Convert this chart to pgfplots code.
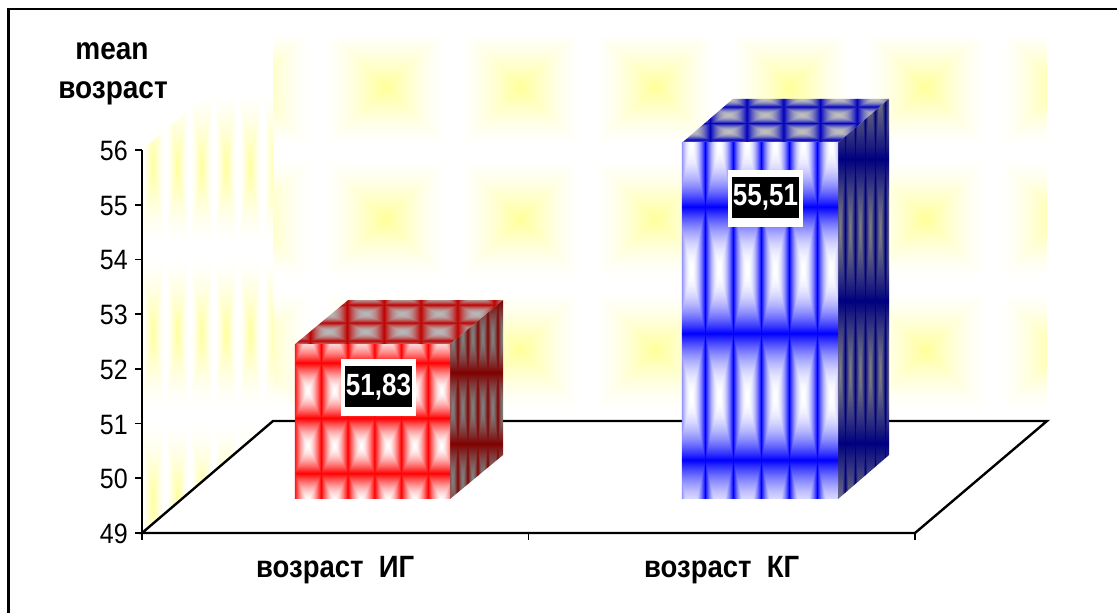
\documentclass[border=0pt]{standalone}
\usepackage{fontspec}
\setmainfont{Liberation Sans}
\usepackage{graphicx}
\usepackage{pgfplots}
\pgfplotsset{compat=1.18}

% Tiled "rectangular gradient" fill: every tile runs from the centre colour to the
% edge colour. Arguments: name; bbox left, right, top, bottom; tile width, x of a tile
% edge; tile height, y of a tile edge; centre rgb; edge-minus-centre rgb; shaping ops.
\newcommand\tiledshading[9]{%
  \tiledshadingii{#1}{#2}{#3}{#4}{#5}{#6}{#7}{#8}{#9}}
\newcommand\tiledshadingii[9]{%
  \pgfmathsetmacro\tileA{(#3-#2)/(50*#6)}%
  \pgfmathsetmacro\tileB{(#2-0.5*(#3-#2)-#7)/#6}%
  \pgfmathsetmacro\tileC{(#5-#4)/(50*#8)}%
  \pgfmathsetmacro\tileD{(#9-#5-0.5*(#5-#4))/#8}%
  \tiledshadingiii{#1}}
\newcommand\tiledshadingiii[8]{%
  \edef\tiledecl{\noexpand\pgfdeclarefunctionalshading{#1}{\noexpand\pgfpointorigin}%
    {\noexpand\pgfpoint{100bp}{100bp}}{}{%
      \tileC\space mul \tileD\space add dup floor sub 2 mul 1 sub abs
      exch
      \tileA\space mul \tileB\space add dup floor sub 2 mul 1 sub abs
      2 copy lt {exch} if pop
      #8
      dup #5 mul #2 add exch
      dup #6 mul #3 add exch
      #7 mul #4 add
    }}%
  \tiledecl}

% name, left, right, top, bottom, tile w, edge x, tile h, edge y -- then colours
\tiledshading{wallback}{273}{1047}{38}{421}{135}{317.5}{131.5}{152.75}
  {1}{1}{0.6}{0}{0}{0.4}{1.1 mul dup 1 gt {pop 1} if 1 exch sub 1.5 exp 1 exch sub}
\tiledshading{wallleft}{142}{273}{96}{533}{24.3}{165}{166}{250}
  {1}{1}{0.6}{0}{0}{0.4}{1.1 mul dup 1 gt {pop 1} if 1 exch sub 1.5 exp 1 exch sub}

\tiledshading{redfront}{295}{450}{343}{499}{26.7}{321}{55.7}{361.7}
  {1}{1}{1}{0}{-1}{-1}{1.6 exp}
\tiledshading{redside}{450}{503}{299}{499}{10}{457.5}{71.6}{371.7}
  {0.5}{0.5}{0.5}{0}{-0.5}{-0.5}{1.5 exp}
\tiledshading{redtop}{295}{503}{299}{343}{36.8}{347}{18}{321.5}
  {0.72}{0.72}{0.72}{0.03}{-0.72}{-0.72}{2 exp}

\tiledshading{bluefront}{682}{838}{143}{499}{28}{705}{126.5}{207}
  {1}{1}{1}{-1}{-1}{0}{2 exp}
\tiledshading{blueside}{838}{889}{99}{499}{10}{845}{142}{159}
  {0.5}{0.5}{0.5}{-0.5}{-0.5}{0}{1.2 exp}
\tiledshading{bluetop}{682}{889}{99}{143}{36.7}{746.7}{16.5}{123.3}
  {0.75}{0.75}{0.75}{-0.75}{-0.75}{0}{2 exp}

\newcommand\labelfont{\fontsize{28}{32}\selectfont\bfseries}
\newcommand\tall[1]{\scalebox{1}[1.12]{#1}}
\newcommand\taller[1]{\scalebox{1}[1.18]{#1}}

\begin{document}
\begin{tikzpicture}[x=1pt,y=1pt]
\path[use as bounding box] (0,0) rectangle (1117,613);
\fill[white] (0,0) rectangle (1117,613);
\draw[black,line width=2.6pt] (8.5,0) -- (8.5,604) -- (1117,604);

% Back wall, side wall and floor, on the front plane's scale
\begin{axis}[
  at={(142pt,80pt)},anchor=south west,
  scale only axis,width=773pt,height=383pt,
  xmin=0,xmax=2,ymin=49,ymax=56,
  clip=false,axis on top,
  axis x line*=bottom,axis y line*=left,
  axis line style={line width=2.2pt,-},
  xtick={0,1,2},xticklabels={,,},
  ytick={49,50,51,52,53,54,55,56},
  tick style={black,line width=1.6pt},
  major tick length=7pt,
  tick align=outside,
  x tick label style={font=\labelfont},
  y tick label style={font=\fontsize{25}{25}\selectfont,inner sep=0pt,xshift=-7pt,yshift=-1pt},
  /pgf/number format/assume math mode=true,
  yticklabel={\tall{\pgfmathprintnumber{\tick}}},
  extra x ticks={0.5,1.5},
  extra x tick labels={\tall{возраст\ \ ИГ},\tall{возраст\ \ КГ}},
  extra x tick style={major tick length=0pt,
    x tick label style={font=\fontsize{27.5}{27.5}\selectfont\bfseries,yshift=-20pt}},
]
\addplot[draw=none,shade,shading=wallback] coordinates
  {(0.339,51.047) (2.3415,51.047) (2.3415,58.05) (0.339,58.05)} -- cycle;
\addplot[draw=none,shade,shading=wallleft] coordinates
  {(0,49) (0.339,51.047) (0.339,56.99) (0.163,56.99) (0,56)} -- cycle;
\addplot[fill=white,draw=black,line width=2.4pt] coordinates
  {(0,49) (2,49) (2.3415,51.047) (0.339,51.047)} -- cycle;
\end{axis}

% Bars stand further back on the floor, so their axis is the same scale moved in depth
\begin{axis}[
  at={(180.5pt,114pt)},anchor=south west,
  scale only axis,width=773pt,height=383pt,
  xmin=0,xmax=2,ymin=49,ymax=56,
  clip=false,hide axis,
]
% возраст ИГ = 51.83
\addplot[draw=none,shade,shading=redtop] coordinates
  {(0.2962,51.83) (0.6973,51.83) (0.8344,52.634) (0.4333,52.634)} -- cycle;
\addplot[draw=none,shade,shading=redside] coordinates
  {(0.6973,49) (0.8344,49.804) (0.8344,52.634) (0.6973,51.83)} -- cycle;
\addplot[draw=none,shade,shading=redfront] coordinates
  {(0.2962,49) (0.6973,49) (0.6973,51.83) (0.2962,51.83)} -- cycle;
% возраст КГ = 55.51
\addplot[draw=none,shade,shading=bluetop] coordinates
  {(1.2975,55.51) (1.7012,55.51) (1.8332,56.314) (1.4295,56.314)} -- cycle;
\addplot[draw=none,shade,shading=blueside] coordinates
  {(1.7012,49) (1.8332,49.804) (1.8332,56.314) (1.7012,55.51)} -- cycle;
\addplot[draw=none,shade,shading=bluefront] coordinates
  {(1.2975,49) (1.7012,49) (1.7012,55.51) (1.2975,55.51)} -- cycle;

\node[fill=white,minimum width=75pt,minimum height=57pt,inner sep=0pt] at (axis cs:0.5123,51.04) {};
\node[fill=black,text=white,minimum width=67pt,minimum height=41pt,inner sep=0pt,
      font=\fontsize{26}{26}\selectfont\bfseries] at (axis cs:0.5123,51.05) {\taller{51,83}};
\node[fill=white,minimum width=75pt,minimum height=57pt,inner sep=0pt] at (axis cs:1.5136,54.49) {};
\node[fill=black,text=white,minimum width=67pt,minimum height=41pt,inner sep=0pt,
      font=\fontsize{26}{26}\selectfont\bfseries] at (axis cs:1.5136,54.51) {\taller{55,51}};
\end{axis}

\node[anchor=base,font=\labelfont] at (112,553.5) {\tall{mean}};
\node[anchor=base,font=\labelfont] at (113,514) {\tall{возраст}};
\end{tikzpicture}
\end{document}
